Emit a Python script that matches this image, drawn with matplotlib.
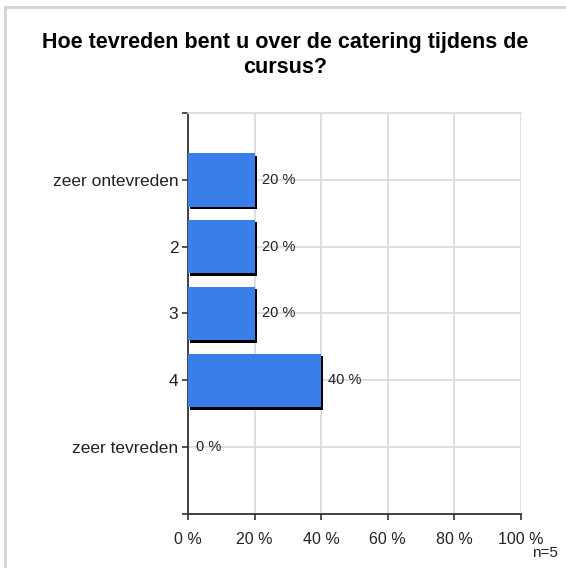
import matplotlib
matplotlib.use("Agg")
import matplotlib.pyplot as plt
import matplotlib.transforms as mtransforms
from matplotlib.lines import Line2D

# Survey data
categories = ["zeer ontevreden", "2", "3", "4", "zeer tevreden"]
percentages = [20, 20, 20, 40, 0]
xticks = [0, 20, 40, 60, 80, 100]
title = "Hoe tevreden bent u over de catering tijdens de\ncursus?"
n_label = "n=5"

plt.rcParams['font.family'] = ['Liberation Sans', 'DejaVu Sans']

fig = plt.figure(figsize=(5.66, 5.68), dpi=100)
ax = fig.add_axes([0.3322, 0.0951, 0.5883, 0.7060])

ypos = list(range(len(categories)))

# shadow bars, shifted a couple of pixels right/down
shadow = mtransforms.ScaledTranslation(2 / 100, -2.5 / 100, fig.dpi_scale_trans)
sbars = ax.barh(ypos, percentages, height=0.8, color='black', zorder=2)
for b in sbars:
    b.set_transform(ax.transData + shadow)
    if b.get_width() == 0:
        b.set_visible(False)
bars = ax.barh(ypos, percentages, height=0.8, color='#3a7ee9', zorder=3)

for y, v in zip(ypos, percentages):
    ax.annotate(f"{v} %", (v, y), xytext=(5 if v > 0 else 6, 0), textcoords='offset points',
                ha='left', va='center', fontsize=10.5, color='#222222', zorder=4)

ax.set_xlim(0, 100)
ax.set_ylim(5, -1)
ax.set_xticks(xticks)
ax.set_xticklabels([f"{t} %" for t in xticks])
ax.set_yticks(ypos)
ax.set_yticklabels(categories)
ax.set_yticks([-1, 5], minor=True)

ax.grid(True, color='#d9d9d9', linewidth=1.2, zorder=0)
ax.set_axisbelow(True)
ax.spines['right'].set_visible(False)
ax.spines['top'].set_color('#d9d9d9')
ax.spines['top'].set_linewidth(1.2)
for s in ['left', 'bottom']:
    ax.spines[s].set_color('#333333')
    ax.spines[s].set_linewidth(1.3)

ax.tick_params(axis='both', which='both', length=4, width=1.2, color='#333333',
               labelcolor='#222222')
ax.tick_params(axis='y', pad=3, labelsize=12.5)
ax.tick_params(axis='x', pad=9, labelsize=11.5)

fig.text(0.503, 0.903, title, ha='center', va='center', fontsize=15.5,
         fontweight='bold', linespacing=1.3, color='black')
fig.text(0.986, 0.026, n_label, ha='right', va='center', fontsize=11, color='#222222')

# light frame along top and left of the picture
fig.add_artist(Line2D([5 / 566, 5 / 566], [0, 1 - 7 / 568], transform=fig.transFigure,
                      color='#d4d4d4', linewidth=2))
fig.add_artist(Line2D([5 / 566, 1], [1 - 7 / 568, 1 - 7 / 568], transform=fig.transFigure,
                      color='#d4d4d4', linewidth=2))

fig.savefig("out.png", dpi=100)
